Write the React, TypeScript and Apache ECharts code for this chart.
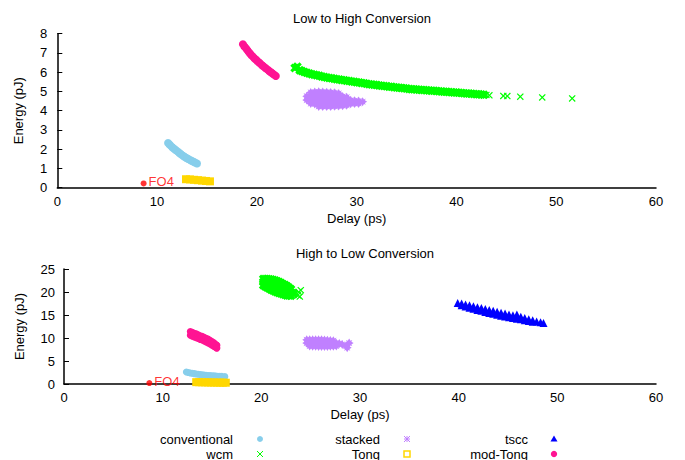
import React, { useEffect, useRef } from "react";
import * as echarts from "echarts";

// ---------- tick / axis settings ----------
const xTicks = [0, 10, 20, 30, 40, 50, 60];
const topTitle = "Low to High Conversion";
const bottomTitle = "High to Low Conversion";
const xName = "Delay (ps)";
const yName = "Energy (pJ)";
const seriesNames = ["conventional", "wcm", "stacked", "Tong", "tscc", "mod-Tong"];
const seriesColors = ["#87ceeb", "#00ff00", "#c080ff", "#ffd700", "#0000ff", "#ff1493"];

// ---------- Low to High Conversion (top) ----------
const convTop = [
  [11.1, 2.32], [11.25, 2.24], [11.4, 2.16], [11.55, 2.09], [11.7, 2.02], [11.85, 1.96],
  [12.0, 1.9], [12.15, 1.84], [12.3, 1.78], [12.45, 1.72], [12.6, 1.66], [12.75, 1.61],
  [12.9, 1.56], [13.05, 1.51], [13.2, 1.47], [13.35, 1.43], [13.5, 1.39], [13.65, 1.35],
  [13.8, 1.31], [14.0, 1.26],
];
const wcmTop = [
  [23.8, 6.22], [24.05, 6.28], [24.3, 6.1], [24.5, 6.06], [24.75, 6.01], [25.0, 5.97],
  [25.25, 5.93], [25.5, 5.9], [25.75, 5.87], [26.0, 5.84], [26.25, 5.81], [26.5, 5.78],
  [26.75, 5.75], [27.0, 5.73], [27.25, 5.7], [27.5, 5.68], [27.75, 5.66], [28.0, 5.64],
  [28.25, 5.62], [28.5, 5.6], [28.75, 5.58], [29.0, 5.56], [29.25, 5.54], [29.5, 5.52],
  [29.75, 5.5], [30.0, 5.48], [30.25, 5.46], [30.5, 5.44], [30.75, 5.42], [31.0, 5.4],
  [31.25, 5.38], [31.5, 5.36], [31.75, 5.35], [32.0, 5.33], [32.25, 5.31], [32.5, 5.3],
  [32.75, 5.28], [33.0, 5.27], [33.25, 5.25], [33.5, 5.24], [33.75, 5.22], [34.0, 5.21],
  [34.25, 5.19], [34.5, 5.18], [34.75, 5.16], [35.0, 5.15], [35.25, 5.13], [35.5, 5.12],
  [35.75, 5.11], [36.0, 5.1], [36.25, 5.09], [36.5, 5.08], [36.75, 5.07], [37.0, 5.06],
  [37.25, 5.05], [37.5, 5.04], [37.75, 5.03], [38.0, 5.02], [38.25, 5.01], [38.5, 5.0],
  [38.75, 4.99], [39.0, 4.98], [39.25, 4.97], [39.5, 4.96], [39.75, 4.95], [40.0, 4.94],
  [40.25, 4.93], [40.5, 4.92], [40.75, 4.91], [41.0, 4.9], [41.25, 4.89], [41.5, 4.88],
  [41.75, 4.87], [42.0, 4.86], [42.25, 4.85], [42.5, 4.84], [42.75, 4.83],
];
const wcmTopTail = [
  [43.0, 4.82], [43.3, 4.8], [44.7, 4.77], [45.1, 4.76], [46.4, 4.73], [48.6, 4.69], [51.6, 4.64],
];
const stackedTop = [
  [25.4, 4.95], [25.8, 4.97], [26.2, 4.98], [26.6, 4.97], [27.0, 4.96], [27.4, 4.95], [27.8, 4.93], [28.2, 4.9],
  [25.0, 4.75], [25.4, 4.75], [25.8, 4.75], [26.2, 4.75], [26.6, 4.75], [27.0, 4.75], [27.4, 4.75],
  [27.8, 4.75], [28.2, 4.75], [28.6, 4.74], [29.0, 4.7],
  [25.0, 4.55], [25.4, 4.55], [25.8, 4.55], [26.2, 4.55], [26.6, 4.55], [27.0, 4.55], [27.4, 4.55],
  [27.8, 4.55], [28.2, 4.55], [28.6, 4.55], [29.0, 4.55], [29.4, 4.54], [29.8, 4.52], [30.2, 4.5], [30.6, 4.47],
  [25.4, 4.37], [25.8, 4.35], [26.2, 4.35], [26.6, 4.35], [27.0, 4.35], [27.4, 4.35], [27.8, 4.35],
  [28.2, 4.35], [28.6, 4.35], [29.0, 4.35], [29.4, 4.36], [29.8, 4.37], [30.2, 4.38],
  [26.2, 4.22], [26.6, 4.22], [27.0, 4.22], [27.4, 4.22], [27.8, 4.23], [28.2, 4.24], [28.6, 4.26], [29.0, 4.28],
];
const tongTop = [
  [12.9, 0.44], [13.3, 0.43], [13.7, 0.41], [14.1, 0.39], [14.5, 0.37], [14.9, 0.35], [15.3, 0.33],
];
const tsccTop: number[][] = [];
const modTongTop = [
  [18.6, 7.45], [18.75, 7.34], [18.9, 7.24], [19.05, 7.14], [19.2, 7.04], [19.35, 6.95],
  [19.5, 6.86], [19.65, 6.78], [19.8, 6.7], [19.95, 6.63], [20.1, 6.56], [20.25, 6.49],
  [20.4, 6.42], [20.55, 6.35], [20.7, 6.29], [20.85, 6.22], [21.0, 6.16], [21.15, 6.1],
  [21.3, 6.04], [21.45, 5.98], [21.6, 5.92], [21.75, 5.86], [21.9, 5.8],
];
const fo4Top = [[8.65, 0.22]];

// ---------- High to Low Conversion (bottom) ----------
const convBot = [
  [12.4, 2.6], [12.6, 2.5], [12.8, 2.4], [13.0, 2.32], [13.2, 2.25], [13.4, 2.18], [13.6, 2.12],
  [13.8, 2.06], [14.0, 2.0], [14.2, 1.95], [14.4, 1.9], [14.6, 1.86], [14.8, 1.82], [15.0, 1.79],
  [15.2, 1.76], [15.4, 1.73], [15.6, 1.7], [15.8, 1.68], [16.0, 1.65], [16.3, 1.6],
];
const wcmBot = [
  [20.2, 22.85], [20.2, 22.15], [20.2, 21.45],
  [20.4, 22.85], [20.4, 22.0], [20.4, 21.2],
  [20.6, 22.8], [20.6, 21.9], [20.6, 21.0],
  [20.8, 22.75], [20.8, 21.75], [20.8, 20.75],
  [21.0, 22.7], [21.0, 21.6], [21.0, 20.5],
  [21.2, 22.6], [21.2, 21.45], [21.2, 20.3],
  [21.4, 22.5], [21.4, 21.3], [21.4, 20.1],
  [21.6, 22.35], [21.6, 21.15], [21.6, 19.95],
  [21.8, 22.2], [21.8, 21.0], [21.8, 19.8],
  [22.0, 21.95], [22.0, 20.8], [22.0, 19.65],
  [22.2, 21.7], [22.2, 20.6], [22.2, 19.5],
  [22.4, 21.5], [22.4, 20.45], [22.4, 19.4],
  [22.6, 21.25], [22.6, 20.25], [22.6, 19.25],
  [22.8, 20.9], [22.8, 20.1], [22.8, 19.25],
  [23.0, 20.6], [23.0, 19.9], [23.0, 19.2],
  [23.2, 19.8], [23.3, 19.6],
];
const wcmBotTail = [[24.0, 20.4], [23.9, 19.0], [23.7, 19.3], [23.8, 20.0]];
const stackedBot = [
  [24.6, 9.6], [24.9, 9.62], [25.2, 9.64], [25.5, 9.64], [25.8, 9.62], [26.1, 9.6], [26.4, 9.57], [26.7, 9.53], [27.0, 9.48], [27.3, 9.4],
  [24.6, 8.9], [24.9, 8.9], [25.2, 8.9], [25.5, 8.9], [25.8, 8.9], [26.1, 8.9], [26.4, 8.9], [26.7, 8.9], [27.0, 8.9], [27.3, 8.9], [27.6, 8.85],
  [24.9, 8.25], [25.2, 8.2], [25.5, 8.18], [25.8, 8.15], [26.1, 8.15], [26.4, 8.15], [26.7, 8.15], [27.0, 8.18], [27.3, 8.2], [27.6, 8.25],
  [27.9, 8.8], [28.2, 8.6], [28.6, 8.3], [28.9, 8.9], [28.7, 7.9],
];
const tongBot = [
  [13.4, 0.4], [13.7, 0.39], [14.0, 0.37], [14.3, 0.36], [14.6, 0.34], [14.9, 0.33], [15.2, 0.32],
  [15.5, 0.31], [15.8, 0.3], [16.1, 0.29], [16.4, 0.28],
];
const tsccBot = [
  [39.9, 17.6], [40.3, 17.5], [40.3, 17.1], [40.7, 17.3], [40.7, 16.85], [41.1, 17.1],
  [41.1, 16.6], [41.5, 16.9], [41.5, 16.35], [41.9, 16.7], [41.9, 16.1], [42.3, 16.5],
  [42.3, 15.9], [42.7, 16.3], [42.7, 15.65], [43.1, 16.1], [43.1, 15.45], [43.5, 15.9],
  [43.5, 15.25], [43.9, 15.7], [43.9, 15.05], [44.3, 15.5], [44.3, 14.85], [44.7, 15.3],
  [44.7, 14.65], [45.1, 15.1], [45.1, 14.5], [45.5, 14.95], [45.5, 14.35], [45.9, 15.1],
  [45.9, 14.2], [46.3, 14.6], [46.3, 14.05], [46.7, 14.35], [46.7, 13.85], [47.1, 14.1],
  [47.1, 13.7], [47.5, 13.85], [47.5, 13.55], [47.9, 13.6], [48.3, 13.4], [48.6, 13.25],
];
const modTongBot = [
  [12.8, 11.4], [12.8, 10.6], [13.0, 11.25], [13.0, 10.4], [13.2, 11.05], [13.2, 10.25],
  [13.4, 10.9], [13.4, 10.05], [13.6, 10.7], [13.6, 9.9], [13.8, 10.5], [13.8, 9.7],
  [14.0, 10.35], [14.0, 9.55], [14.2, 10.15], [14.2, 9.35], [14.4, 9.95], [14.4, 9.15],
  [14.6, 9.75], [14.6, 8.9], [14.8, 9.5], [14.8, 8.7], [15.0, 9.25], [15.0, 8.45],
  [15.2, 8.95], [15.2, 8.15], [15.4, 8.6], [15.4, 7.9], [15.5, 8.4], [15.5, 7.8],
];
const fo4Bot = [[8.65, 0.2]];

const X_FAT = "path://M0,2.5L2.5,0L5,2.5L7.5,0L10,2.5L7.5,5L10,7.5L7.5,10L5,7.5L2.5,10L0,7.5L2.5,5Z";
const X_THIN = "path://M0,1.2L1.2,0L5,3.8L8.8,0L10,1.2L6.2,5L10,8.8L8.8,10L5,6.2L1.2,10L0,8.8L3.8,5Z";
const STAR_FAT = "path://M5,0L6.5,2.5L8.5,1.5L7.5,3.5L10,5L7.5,6.5L8.5,8.5L6.5,7.5L5,10L3.5,7.5L1.5,8.5L2.5,6.5L0,5L2.5,3.5L1.5,1.5L3.5,2.5Z";

const FONT = '"Liberation Sans", Arial, Helvetica, sans-serif';
const FS = 13;

function scatter(name: string, g: number, data: number[][], symbol: string, size: number, color: string) {
  return {
    type: "scatter",
    name,
    xAxisIndex: g,
    yAxisIndex: g,
    data,
    symbol,
    symbolSize: size,
    itemStyle: { color, opacity: 1 },
    emphasis: { disabled: true },
    clip: false,
  };
}

function fo4(g: number, data: number[][]) {
  return {
    type: "scatter",
    name: "FO4",
    xAxisIndex: g,
    yAxisIndex: g,
    data,
    symbol: "circle",
    symbolSize: 6,
    itemStyle: { color: "#ff0000" },
    label: {
      show: true,
      position: "right",
      distance: 2,
      offset: [0, -2],
      formatter: "FO4",
      color: "#ff0000",
      fontSize: FS,
      fontFamily: FONT,
    },
    clip: false,
  };
}

function buildOption() {
  const c = seriesColors;
  const series: any[] = [
    scatter(seriesNames[0], 0, convTop, "circle", 8, c[0]),
    scatter(seriesNames[1], 0, wcmTop, X_FAT, 9, c[1]),
    scatter(seriesNames[1], 0, wcmTopTail, X_THIN, 7, c[1]),
    scatter(seriesNames[2], 0, stackedTop, STAR_FAT, 9, c[2]),
    scatter(seriesNames[3], 0, tongTop, "rect", 8, c[3]),
    scatter(seriesNames[4], 0, tsccTop, "triangle", 8, c[4]),
    scatter(seriesNames[5], 0, modTongTop, "circle", 8, c[5]),
    fo4(0, fo4Top),
    scatter(seriesNames[0], 1, convBot, "circle", 7, c[0]),
    scatter(seriesNames[1], 1, wcmBot, X_FAT, 9, c[1]),
    scatter(seriesNames[1], 1, wcmBotTail, X_THIN, 7, c[1]),
    scatter(seriesNames[2], 1, stackedBot, STAR_FAT, 9, c[2]),
    scatter(seriesNames[3], 1, tongBot, "rect", 8, c[3]),
    scatter(seriesNames[4], 1, tsccBot, "triangle", 8, c[4]),
    scatter(seriesNames[5], 1, modTongBot, "circle", 7, c[5]),
    fo4(1, fo4Bot),
  ];

  const xAxisBase = (gi: number) => ({
    type: "value",
    gridIndex: gi,
    min: xTicks[0],
    max: xTicks[xTicks.length - 1],
    interval: 10,
    name: xName,
    nameLocation: "middle",
    nameGap: 24,
    nameTextStyle: { color: "#000", fontSize: FS, fontFamily: FONT },
    axisLine: { show: true, lineStyle: { color: "#000", width: 1.5 } },
    axisTick: { show: false },
    axisLabel: { color: "#000", fontSize: FS, fontFamily: FONT, margin: 7 },
    splitLine: { show: false },
  });
  const yAxisBase = (gi: number, max: number, interval: number, gap: number, margin: number) => ({
    type: "value",
    gridIndex: gi,
    min: 0,
    max,
    interval,
    name: yName,
    nameLocation: "middle",
    nameGap: gap,
    nameTextStyle: { color: "#000", fontSize: FS, fontFamily: FONT },
    axisLine: { show: true, lineStyle: { color: "#000", width: 1.5 } },
    axisTick: { show: true, inside: true, length: 5, lineStyle: { color: "#000", width: 1 } },
    axisLabel: { color: "#000", fontSize: FS, fontFamily: FONT, margin },
    splitLine: { show: false },
  });

  // legend: column-major, two rows
  const legendRows = [439, 454];
  const textX = [233, 380, 528];
  const symX = [260, 407, 554];
  const legendText: any[] = seriesNames.map((name, i) => ({
    type: "text",
    style: {
      text: name,
      x: textX[Math.floor(i / 2)],
      y: legendRows[i % 2],
      textAlign: "right",
      textVerticalAlign: "middle",
      fill: "#000",
      fontSize: FS,
      fontFamily: FONT,
      lineHeight: 14,
    },
  }));
  const r0 = legendRows[0];
  const r1 = legendRows[1];
  const legendSymbols: any[] = [
    { type: "circle", shape: { cx: symX[0], cy: r0, r: 3 }, style: { fill: c[0] } },
    { type: "line", shape: { x1: symX[0] - 3, y1: r1 - 3, x2: symX[0] + 3, y2: r1 + 3 }, style: { stroke: c[1], lineWidth: 1 } },
    { type: "line", shape: { x1: symX[0] - 3, y1: r1 + 3, x2: symX[0] + 3, y2: r1 - 3 }, style: { stroke: c[1], lineWidth: 1 } },
    { type: "line", shape: { x1: symX[1] - 3, y1: r0 - 3, x2: symX[1] + 3, y2: r0 + 3 }, style: { stroke: c[2], lineWidth: 1 } },
    { type: "line", shape: { x1: symX[1] - 3, y1: r0 + 3, x2: symX[1] + 3, y2: r0 - 3 }, style: { stroke: c[2], lineWidth: 1 } },
    { type: "line", shape: { x1: symX[1] - 3, y1: r0, x2: symX[1] + 3, y2: r0 }, style: { stroke: c[2], lineWidth: 1 } },
    { type: "line", shape: { x1: symX[1], y1: r0 - 3, x2: symX[1], y2: r0 + 3 }, style: { stroke: c[2], lineWidth: 1 } },
    { type: "rect", shape: { x: symX[1] - 3, y: r1 - 3, width: 6, height: 6 }, style: { fill: "none", stroke: c[3], lineWidth: 1.5 } },
    { type: "polygon", shape: { points: [[symX[2], r0 - 3.5], [symX[2] + 3.5, r0 + 2.5], [symX[2] - 3.5, r0 + 2.5]] }, style: { fill: c[4] } },
    { type: "circle", shape: { cx: symX[2], cy: r1, r: 3.2 }, style: { fill: c[5] } },
  ];

  return {
    animation: false,
    backgroundColor: "#ffffff",
    textStyle: { fontFamily: FONT },
    title: [
      { text: topTitle, left: 357, top: 7, textAlign: "center", textStyle: { fontSize: FS, fontWeight: "normal", color: "#000", fontFamily: FONT } },
      { text: bottomTitle, left: 360, top: 242, textAlign: "center", textStyle: { fontSize: FS, fontWeight: "normal", color: "#000", fontFamily: FONT } },
    ],
    grid: [
      { left: 57.3, right: 29, top: 33.7, height: 154, containLabel: false },
      { left: 64, right: 29, top: 269, height: 115, containLabel: false },
    ],
    xAxis: [xAxisBase(0), xAxisBase(1)],
    yAxis: [yAxisBase(0, 8, 1, 32, 10), yAxisBase(1, 25, 5, 38, 9)],
    series,
    graphic: [...legendText, ...legendSymbols],
  };
}

export default function App() {
  const ref = useRef<HTMLDivElement>(null);
  useEffect(() => {
    if (!ref.current) return;
    const chart = echarts.init(ref.current, null, { renderer: "svg" });
    chart.setOption(buildOption() as any);
    return () => chart.dispose();
  }, []);
  return (
    <div
      ref={ref}
      style={{ position: "fixed", left: 0, top: 0, width: 685, height: 460 }}
    />
  );
}
